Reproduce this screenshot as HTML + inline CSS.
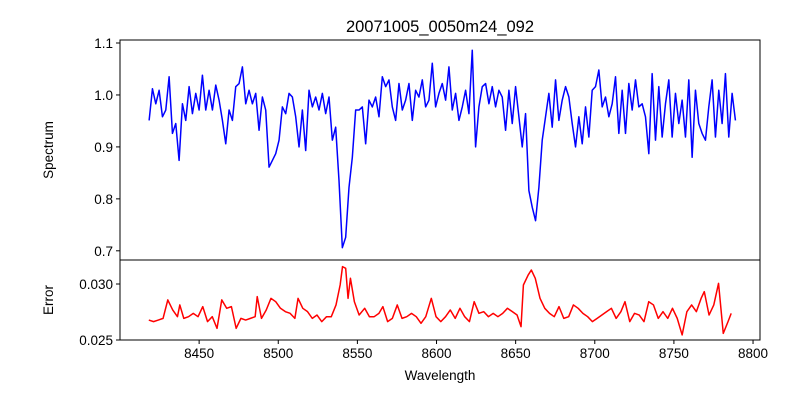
<!DOCTYPE html>
<html><head><meta charset="utf-8"><style>
body{margin:0;background:#fff;}
svg{display:block;font-family:"Liberation Sans","DejaVu Sans",sans-serif;}
</style></head><body>
<svg id="chart" width="800" height="400" viewBox="0 0 800 400" xmlns="http://www.w3.org/2000/svg">
<rect x="0" y="0" width="800" height="400" fill="#fff"/>
<text x="440" y="32" font-size="16.5" text-anchor="middle">20071005_0050m24_092</text>
<text x="0" y="0" font-size="13.5" text-anchor="middle" transform="translate(53,150) rotate(-90)">Spectrum</text>
<text x="0" y="0" font-size="13.5" text-anchor="middle" transform="translate(53,300) rotate(-90)">Error</text>
<text x="440" y="380" font-size="13.5" text-anchor="middle">Wavelength</text>
<g id="plot"></g>
</svg>
<script>
const fluxStart = 8418.4;
const fluxStep = 2.105;
const fluxValues = [.951,1.012,.983,1.009,.958,.971,1.035,.926,.945,.874,.983,.951,1.016,.964,1.003,.971,1.038,.971,1.009,.971,1.019,.990,.951,.906,.971,.951,1.016,1.022,1.054,.983,1.009,.983,1.003,.932,.996,.971,.861,.874,.887,.913,.977,.964,1.003,.996,.958,.900,.971,.893,1.009,.977,.996,.971,1.003,.964,.996,.913,.938,.835,.706,.726,.822,.880,.971,.971,.977,.906,.990,.977,.996,.958,1.035,1.016,1.029,.977,.951,1.022,.971,.990,1.022,.951,1.009,.996,1.029,.977,.990,1.061,.977,1.003,1.022,.990,1.054,.971,1.003,.951,
.977,1.009,.964,1.086,.900,.977,1.016,1.022,.983,1.016,.977,1.009,.996,.932,1.009,.945,1.016,.958,.900,.964,.816,.784,.758,.822,.913,.958,1.003,.938,1.029,.951,.990,1.016,.996,.945,.900,.958,.906,.977,.919,1.009,1.016,1.048,.977,.996,.958,.983,1.035,.926,1.009,.926,1.022,.971,1.029,.977,.983,.958,.887,1.041,.913,1.016,.919,.983,1.029,.919,1.003,.945,.990,.919,1.029,.880,1.009,.945,.926,.913,.977,1.029,.919,1.009,.945,1.041,.919,1.003,.951];
const errWave = [8418.2,8421.2,8424.2,8427.2,8430.2,8433.3,8436.3,8437.8,8440.3,8443.3,8446.3,8449.3,8452.3,8455.3,8458.3,8461.3,8464.3,8467.4,8470.4,8473.4,8476.4,8479.4,8482.4,8485.4,8486.7,8489.4,8492.4,8495.4,8498.4,8501.4,8504.5,8507.5,8510.5,8512.5,8515.5,8518.5,8521.5,8524.5,8527.5,8530.5,8533.5,8536.5,8539.1,8540.6,8542.6,8544.1,8545.6,8548.1,8551.1,8554.6,8557.6,8560.6,8563.6,8566.1,8569.1,8572.1,8575.2,8578.2,8581.2,8584.2,8587.2,8590.2,8593.2,8596.7,8599.7,8602.7,8605.7,8608.7,8611.8,8614.8,8617.8,8620.8,8623.8,8626.8,8629.8,8632.8,8635.8,8638.8,8641.8,8644.8,8647.9,8650.9,8653.4,8654.9,8657.9,8659.9,8662.4,8665.4,8668.4,8671.4,8674.4,8677.4,8680.4,8683.5,8686.5,8689.5,8692.5,8695.5,8698.5,8701.5,8704.5,8707.5,8710.5,8713.5,8716.5,8719.1,8722.1,8725.1,8728.1,8731.1,8734.1,8737.1,8740.1,8743.1,8746.1,8749.1,8752.1,8755.2,8758.2,8761.2,8764.2,8767.2,8769.2,8772.2,8775.2,8778.2,8781.2,8784.2,8786.2];
const errValues = [.02678,.02664,.02678,.02693,.02858,.02768,.02708,.02813,.02693,.02708,.02738,.02708,.02798,.02664,.02708,.02604,.02858,.02783,.02798,.02604,.02693,.02678,.02693,.02708,.02887,.02693,.02768,.02872,.02842,.02783,.02753,.02738,.02693,.02872,.02783,.02753,.02693,.02723,.02664,.02708,.02708,.02813,.02991,.03155,.03140,.02872,.03051,.02842,.02723,.02783,.02708,.02708,.02738,.02798,.02664,.02693,.02813,.02693,.02708,.02738,.02708,.02649,.02708,.02872,.02708,.02664,.02708,.02768,.02693,.02783,.02708,.02664,.02842,.02738,.02753,.02708,.02738,.02708,.02738,.02783,.02753,.02723,.02619,.02991,.03080,.03125,.03051,.02872,.02783,.02738,.02708,.02798,.02693,.02708,.02813,.02783,.02738,.02708,.02664,.02693,.02723,.02753,.02783,.02693,.02753,.02842,.02664,.02738,.02723,.02664,.02842,.02813,.02693,.02753,.02693,.02783,.02693,.02545,.02753,.02813,.02753,.02872,.02932,.02723,.02813,.03006,.02559,.02664,.02738];
const xTicks = [8450,8500,8550,8600,8650,8700,8750,8800];
const specTicks = [1.1,1.0,0.9,0.8,0.7];
const specTickLabels = ["1.1","1.0","0.9","0.8","0.7"];
const errTicks = [0.030,0.025];
const errTickLabels = ["0.030","0.025"];

const NS = "http://www.w3.org/2000/svg";
const g = document.getElementById('plot');
const X0 = 120, X1 = 760;
const xMin = 8400.0, xMax = 8804.4;
const xs = w => X0 + (w - xMin) / (xMax - xMin) * (X1 - X0);
const T0 = 40, T1 = 260, sMin = 0.6823, sMax = 1.1058;
const ys = v => T1 - (v - sMin) / (sMax - sMin) * (T1 - T0);
const B0 = 260, B1 = 340, eMin = 0.025, eMax = 0.0321428;
const ye = v => B1 - (v - eMin) / (eMax - eMin) * (B1 - B0);

function mk(tag, attrs){ const e = document.createElementNS(NS, tag); for (const k in attrs) e.setAttribute(k, attrs[k]); g.appendChild(e); return e; }

// spectrum line
let d = fluxValues.map((v,i)=> (i?'L':'M') + xs(fluxStart + i*fluxStep).toFixed(2) + ' ' + ys(v).toFixed(2)).join(' ');
const sp = mk('path', {d:d, fill:'none', stroke:'#0000ff', 'stroke-width':1.5, 'stroke-linejoin':'round'});


// error line
d = errValues.map((v,i)=> (i?'L':'M') + xs(errWave[i]).toFixed(2) + ' ' + ye(v).toFixed(2)).join(' ');
const er = mk('path', {d:d, fill:'none', stroke:'#ff0000', 'stroke-width':1.5, 'stroke-linejoin':'round'});



// frames
const f1 = mk('rect', {x:X0, y:T0, width:X1-X0, height:T1-T0, fill:'none', stroke:'#000', 'stroke-width':1});


const f2 = mk('rect', {x:X0, y:B0, width:X1-X0, height:B1-B0, fill:'none', stroke:'#000', 'stroke-width':1});



xTicks.forEach(t=>{
  const x = xs(t);
  const l = mk('line', {x1:x, x2:x, y1:B1, y2:B1+4, stroke:'#000'});
  
  
  const tx = mk('text', {x:x, y:B1+18, 'font-size':13.5, 'text-anchor':'middle'});
  tx.textContent = t;
  
  
});
specTicks.forEach((t,i)=>{
  const y = ys(t);
  const l = mk('line', {x1:X0-4, x2:X0, y1:y, y2:y, stroke:'#000'});
  
  
  const tx = mk('text', {x:X0-7, y:y+5, 'font-size':13.5, 'text-anchor':'end'});
  tx.textContent = specTickLabels[i];
  
  
});
errTicks.forEach((t,i)=>{
  const y = ye(t);
  const l = mk('line', {x1:X0-4, x2:X0, y1:y, y2:y, stroke:'#000'});
  
  
  const tx = mk('text', {x:X0-7, y:y+5, 'font-size':13.5, 'text-anchor':'end'});
  tx.textContent = errTickLabels[i];
  
  
});
</script>
</body></html>
